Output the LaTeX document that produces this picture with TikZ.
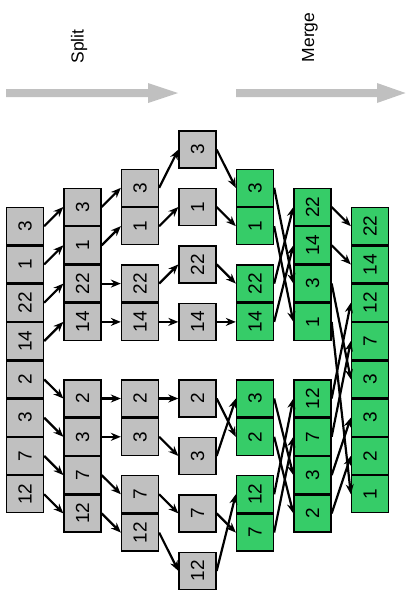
\documentclass[tikz,border=0pt]{standalone}
\usepackage{fontspec}
\setmainfont{Liberation Sans}
\usepackage{graphicx}
\usetikzlibrary{arrows.meta}
\definecolor{cellgray}{RGB}{192,192,192}
\definecolor{cellgreen}{RGB}{54,204,104}
\definecolor{bigarrow}{RGB}{192,192,192}
\tikzset{
  cellbox/.style={draw=black, line width=1.3pt, minimum width=37pt, minimum height=37pt, inner sep=0pt, font=\fontsize{19}{19}\selectfont},
  graycell/.style={cellbox, fill=cellgray},
  greencell/.style={cellbox, fill=cellgreen},
  link/.style={line width=2.2pt, -{Stealth[length=10pt,width=8pt]}},
  steplabel/.style={rotate=90, inner sep=0pt, font=\fontsize{17.5}{17.5}\selectfont},
}
\newcommand\mycell[5]{\node[#5] (#1) at ({25+57.5*(#2-1)},{207+38.3*(#3+0.5)}) {\rotatebox{90}{#4}};}
\begin{document}
\begin{tikzpicture}[x=1pt,y=-1pt]
\useasboundingbox (0,0) rectangle (406,608);
% big arrows
\fill[bigarrow] (6,89) -- (148,89) -- (148,83) -- (178,93) -- (148,103) -- (148,97) -- (6,97) -- cycle;
\fill[bigarrow] (236,89) -- (377,89) -- (377,83) -- (405.5,93) -- (377,103) -- (377,97) -- (236,97) -- cycle;
\node[steplabel] (split) at (79,46.5) {Split};
\node[steplabel] (merge) at (310,37.5) {Merge};
% column 1
\mycell{a1}{1}{0}{3}{graycell}
\mycell{a2}{1}{1}{1}{graycell}
\mycell{a3}{1}{2}{22}{graycell}
\mycell{a4}{1}{3}{14}{graycell}
\mycell{a5}{1}{4}{2}{graycell}
\mycell{a6}{1}{5}{3}{graycell}
\mycell{a7}{1}{6}{7}{graycell}
\mycell{a8}{1}{7}{12}{graycell}
% column 2
\mycell{b1}{2}{-0.5}{3}{graycell}
\mycell{b2}{2}{0.5}{1}{graycell}
\mycell{b3}{2}{1.5}{22}{graycell}
\mycell{b4}{2}{2.5}{14}{graycell}
\mycell{b5}{2}{4.5}{2}{graycell}
\mycell{b6}{2}{5.5}{3}{graycell}
\mycell{b7}{2}{6.5}{7}{graycell}
\mycell{b8}{2}{7.5}{12}{graycell}
% column 3
\mycell{c1}{3}{-1}{3}{graycell}
\mycell{c2}{3}{0}{1}{graycell}
\mycell{c3}{3}{1.5}{22}{graycell}
\mycell{c4}{3}{2.5}{14}{graycell}
\mycell{c5}{3}{4.5}{2}{graycell}
\mycell{c6}{3}{5.5}{3}{graycell}
\mycell{c7}{3}{7}{7}{graycell}
\mycell{c8}{3}{8}{12}{graycell}
% column 4
\mycell{d1}{4}{-2}{3}{graycell}
\mycell{d2}{4}{-0.5}{1}{graycell}
\mycell{d3}{4}{1}{22}{graycell}
\mycell{d4}{4}{2.5}{14}{graycell}
\mycell{d5}{4}{4.5}{2}{graycell}
\mycell{d6}{4}{6}{3}{graycell}
\mycell{d7}{4}{7.5}{7}{graycell}
\mycell{d8}{4}{9}{12}{graycell}
% column 5
\mycell{e1}{5}{-1}{3}{greencell}
\mycell{e2}{5}{0}{1}{greencell}
\mycell{e3}{5}{1.5}{22}{greencell}
\mycell{e4}{5}{2.5}{14}{greencell}
\mycell{e5}{5}{4.5}{3}{greencell}
\mycell{e6}{5}{5.5}{2}{greencell}
\mycell{e7}{5}{7}{12}{greencell}
\mycell{e8}{5}{8}{7}{greencell}
% column 6
\mycell{f1}{6}{-0.5}{22}{greencell}
\mycell{f2}{6}{0.5}{14}{greencell}
\mycell{f3}{6}{1.5}{3}{greencell}
\mycell{f4}{6}{2.5}{1}{greencell}
\mycell{f5}{6}{4.5}{12}{greencell}
\mycell{f6}{6}{5.5}{7}{greencell}
\mycell{f7}{6}{6.5}{3}{greencell}
\mycell{f8}{6}{7.5}{2}{greencell}
% column 7
\mycell{g1}{7}{0}{22}{greencell}
\mycell{g2}{7}{1}{14}{greencell}
\mycell{g3}{7}{2}{12}{greencell}
\mycell{g4}{7}{3}{7}{greencell}
\mycell{g5}{7}{4}{3}{greencell}
\mycell{g6}{7}{5}{3}{greencell}
\mycell{g7}{7}{6}{2}{greencell}
\mycell{g8}{7}{7}{1}{greencell}
% connectors
\foreach \i in {1,...,8} {
  \draw[link] (a\i.east) -- (b\i.west);
  \draw[link] (b\i.east) -- (c\i.west);
  \draw[link] (c\i.east) -- (d\i.west);
}
\foreach \s/\t in {d1/e1,d2/e2,d3/e3,d4/e4,d5/e6,d6/e5,d7/e8,d8/e7,
                   e1/f3,e2/f4,e3/f1,e4/f2,e5/f7,e6/f8,e7/f5,e8/f6,
                   f1/g1,f2/g2,f3/g5,f4/g8,f5/g3,f6/g4,f7/g6,f8/g7} {
  \draw[link] (\s.east) -- (\t.west);
}
\end{tikzpicture}
\end{document}
